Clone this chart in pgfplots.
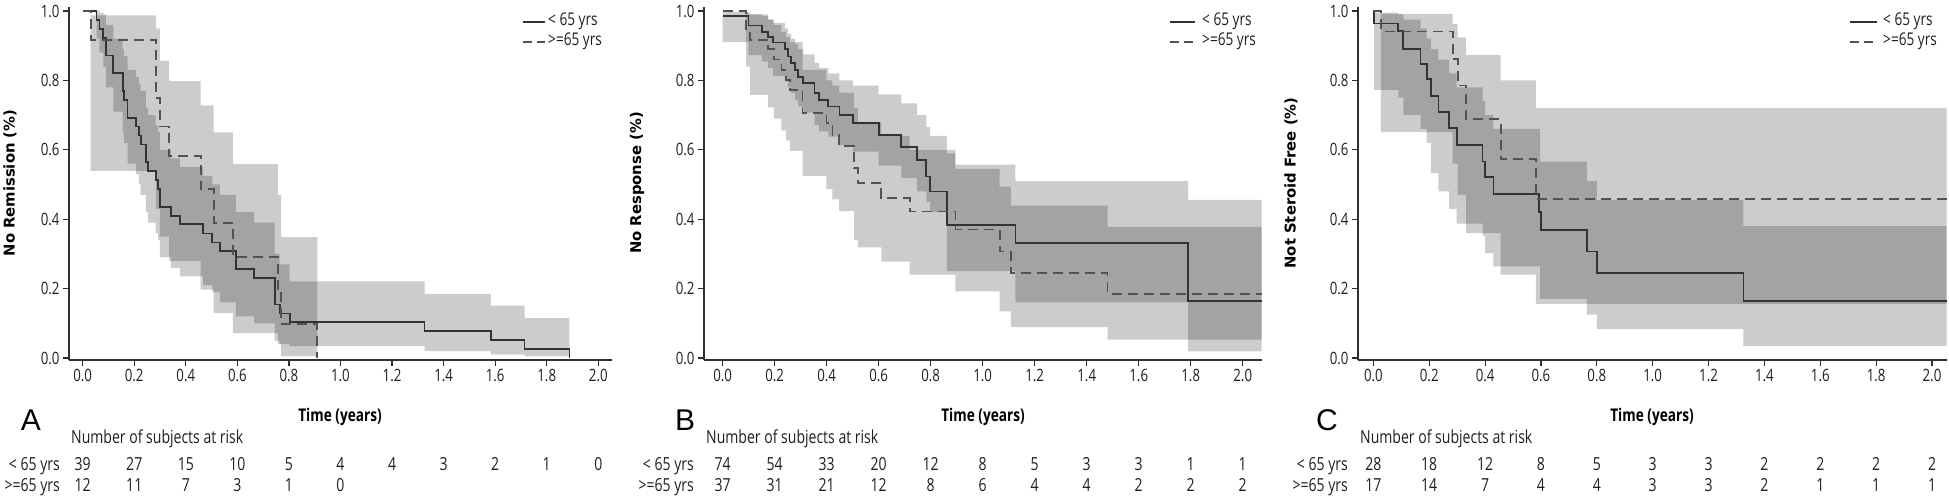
\documentclass[border=0pt]{standalone}
\usepackage{fontspec}
\setmainfont{Open Sans}[FakeStretch=0.78]
\newfontfamily\ylfont{DejaVu Sans}
\newfontfamily\panelfont{Liberation Sans}
\usepackage{pgfplots}
\pgfplotsset{compat=1.18}
\usepackage{pgfplotstable}
\usepgfplotslibrary{fillbetween}
\pgfkeys{/pgf/number format/assume math mode=true}

\definecolor{txt}{gray}{0.12}
\definecolor{axc}{gray}{0.18}

% ---------------- Panel A bands (t, lower, upper) ----------------
\pgfplotstableread{
t L U
0.054 0.92 1.0
0.065 0.88 0.995
0.080 0.84 0.99
0.090 0.78 0.96
0.119 0.71 0.92
0.155 0.65 0.89
0.160 0.62 0.87
0.174 0.56 0.83
0.206 0.53 0.81
0.218 0.50 0.79
0.225 0.47 0.77
0.245 0.42 0.72
0.254 0.39 0.70
0.283 0.36 0.67
0.293 0.34 0.65
0.299 0.29 0.60
0.342 0.26 0.575
0.377 0.235 0.55
0.467 0.21 0.525
0.503 0.19 0.50
0.532 0.16 0.47
0.594 0.12 0.42
0.665 0.10 0.39
0.745 0.05 0.30
0.764 0.04 0.27
0.803 0.034 0.221
1.326 0.02 0.185
1.583 0.01 0.151
1.714 0.005 0.115
1.888 0.005 0.115
}\bandAy
\pgfplotstableread{
t L U
0.031 0.539 0.987
0.284 0.43 0.95
0.299 0.35 0.857
0.335 0.28 0.798
0.458 0.197 0.728
0.508 0.13 0.65
0.583 0.072 0.559
0.757 0.04 0.47
0.770 0.005 0.348
0.910 0.005 0.348
}\bandAo
% ---------------- Panel B bands ----------------
\pgfplotstableread{
t L U
0.000 0.91 0.998
0.099 0.873 0.99
0.151 0.854 0.985
0.175 0.835 0.975
0.194 0.813 0.965
0.239 0.797 0.95
0.251 0.78 0.935
0.263 0.763 0.92
0.278 0.744 0.905
0.290 0.725 0.89
0.310 0.707 0.875
0.353 0.672 0.85
0.371 0.653 0.835
0.406 0.638 0.82
0.449 0.614 0.80
0.501 0.595 0.785
0.600 0.554 0.76
0.687 0.518 0.734
0.747 0.48 0.70
0.783 0.45 0.665
0.798 0.42 0.64
0.862 0.25 0.59
0.895 0.25 0.557
1.126 0.16 0.51
1.790 0.019 0.456
2.073 0.019 0.456
}\bandBy
\pgfplotstableread{
t L U
0.090 0.84 0.995
0.105 0.758 0.99
0.175 0.722 0.975
0.197 0.69 0.96
0.226 0.656 0.94
0.243 0.627 0.925
0.258 0.597 0.91
0.307 0.525 0.83
0.399 0.487 0.80
0.422 0.457 0.785
0.448 0.423 0.765
0.505 0.34 0.72
0.520 0.319 0.68
0.610 0.278 0.64
0.719 0.24 0.60
0.895 0.192 0.545
1.065 0.134 0.494
1.108 0.089 0.439
1.480 0.053 0.378
2.073 0.053 0.378
}\bandBo
% ---------------- Panel C bands ----------------
\pgfplotstableread{
t L U
0.002 0.773 0.995
0.0895 0.75 0.99
0.107 0.70 0.975
0.169 0.66 0.95
0.191 0.62 0.92
0.206 0.533 0.89
0.233 0.48 0.86
0.271 0.43 0.82
0.298 0.387 0.78
0.391 0.352 0.74
0.400 0.302 0.70
0.430 0.264 0.66
0.597 0.17 0.566
0.764 0.125 0.51
0.800 0.084 0.456
1.325 0.034 0.38
2.052 0.034 0.38
}\bandCy
\pgfplotstableread{
t L U
0.027 0.651 0.992
0.284 0.56 0.962
0.302 0.47 0.924
0.332 0.36 0.873
0.456 0.24 0.80
0.582 0.156 0.72
2.052 0.156 0.72
}\bandCo

\pgfplotsset{
  km/.style={
    scale only axis,
    height=353pt,
    ymin=-0.0058, ymax=1.0115,
    axis x line*=bottom, axis y line*=left,
    axis line style={line width=1.4pt, color=axc},
    xtick={0,0.2,0.4,0.6,0.8,1.0,1.2,1.4,1.6,1.8,2.0},
    ytick={0,0.2,0.4,0.6,0.8,1.0},
    tick style={line width=1.2pt, color=axc},
    tick align=outside, major tick length=6pt,
    ticklabel style={font=\fontsize{17}{20}\selectfont, text=txt,
      /pgf/number format/fixed, /pgf/number format/fixed zerofill,
      /pgf/number format/precision=1},
    clip=false,
  },
  band/.style={fill=black, fill opacity=0.2, draw=none, forget plot},
  bnd/.style={draw=none, const plot, forget plot},
  young/.style={const plot, color=black!80, line width=1.8pt},
  old/.style={const plot, color=black!68, line width=1.8pt, dash pattern=on 10pt off 6pt},
}

\begin{document}
\begin{tikzpicture}

% ===================== Panel A =====================
\begin{axis}[km, at={(69pt,141pt)}, anchor=south west, width=542.7pt, xmin=-0.053, xmax=2.052]
\addplot[bnd, name path=AyU] table[x=t,y=U]{\bandAy};
\addplot[bnd, name path=AyL] table[x=t,y=L]{\bandAy};
\addplot[band] fill between[of=AyU and AyL];
\addplot[bnd, name path=AoU] table[x=t,y=U]{\bandAo};
\addplot[bnd, name path=AoL] table[x=t,y=L]{\bandAo};
\addplot[band] fill between[of=AoU and AoL];
\addplot[young] coordinates {(0,1) (0.054,0.974) (0.065,0.949) (0.080,0.923) (0.090,0.872) (0.119,0.821) (0.155,0.769) (0.160,0.744) (0.174,0.692) (0.206,0.667) (0.218,0.641) (0.225,0.615) (0.245,0.564) (0.254,0.538) (0.283,0.513) (0.293,0.487) (0.299,0.436) (0.342,0.410) (0.377,0.385) (0.467,0.359) (0.503,0.333) (0.532,0.308) (0.594,0.256) (0.665,0.231) (0.745,0.154) (0.764,0.128) (0.803,0.103) (1.326,0.077) (1.583,0.051) (1.714,0.026) (1.888,0)};
\addplot[old] coordinates {(0,1) (0.031,0.917) (0.284,0.75) (0.299,0.667) (0.335,0.583) (0.458,0.486) (0.508,0.389) (0.583,0.292) (0.757,0.194) (0.770,0.097) (0.910,0)};
\end{axis}

% ===================== Panel B =====================
\begin{axis}[km, at={(704pt,141pt)}, anchor=south west, width=557.7pt, xmin=-0.072, xmax=2.073]
\addplot[bnd, name path=ByU] table[x=t,y=U]{\bandBy};
\addplot[bnd, name path=ByL] table[x=t,y=L]{\bandBy};
\addplot[band] fill between[of=ByU and ByL];
\addplot[bnd, name path=BoU] table[x=t,y=U]{\bandBo};
\addplot[bnd, name path=BoL] table[x=t,y=L]{\bandBo};
\addplot[band] fill between[of=BoU and BoL];
\addplot[young] coordinates {(0,0.986) (0.099,0.958) (0.151,0.94) (0.175,0.925) (0.194,0.909) (0.239,0.89) (0.251,0.869) (0.263,0.85) (0.278,0.83) (0.290,0.81) (0.310,0.792) (0.353,0.763) (0.371,0.744) (0.406,0.725) (0.449,0.70) (0.501,0.677) (0.600,0.643) (0.687,0.609) (0.747,0.571) (0.783,0.523) (0.798,0.48) (0.862,0.384) (1.126,0.331) (1.79,0.165) (2.073,0.165)};
\addplot[old] coordinates {(0,1.0) (0.090,0.946) (0.105,0.917) (0.175,0.89) (0.197,0.86) (0.226,0.83) (0.243,0.80) (0.258,0.773) (0.307,0.707) (0.399,0.677) (0.422,0.643) (0.448,0.612) (0.505,0.547) (0.520,0.504) (0.610,0.46) (0.719,0.422) (0.895,0.37) (1.065,0.307) (1.108,0.245) (1.480,0.184) (2.073,0.184)};
\end{axis}

% ===================== Panel C =====================
\begin{axis}[km, at={(1358pt,141pt)}, anchor=south west, width=588.5pt, xmin=-0.055, xmax=2.052]
\addplot[bnd, name path=CyU] table[x=t,y=U]{\bandCy};
\addplot[bnd, name path=CyL] table[x=t,y=L]{\bandCy};
\addplot[band] fill between[of=CyU and CyL];
\addplot[bnd, name path=CoU] table[x=t,y=U]{\bandCo};
\addplot[bnd, name path=CoL] table[x=t,y=L]{\bandCo};
\addplot[band] fill between[of=CoU and CoL];
\addplot[young] coordinates {(0,1) (0.002,0.964) (0.0895,0.942) (0.107,0.89) (0.169,0.848) (0.191,0.803) (0.206,0.756) (0.233,0.708) (0.271,0.662) (0.298,0.614) (0.391,0.566) (0.400,0.521) (0.430,0.473) (0.594,0.42) (0.600,0.368) (0.764,0.307) (0.80,0.245) (1.325,0.165) (2.052,0.165)};
\addplot[old] coordinates {(0,1) (0.027,0.941) (0.284,0.862) (0.302,0.785) (0.332,0.689) (0.456,0.573) (0.582,0.458) (2.052,0.458)};
\end{axis}

% ===================== Labels, legends and risk tables =====================
\tikzset{lbl/.style={text=txt, inner sep=0pt, text height=0.72em, text depth=0pt},
         yl/.style={rotate=90, text=black, inner sep=0pt, font=\ylfont\bfseries\fontsize{14.8}{17}\selectfont},
         xl/.style={text=black, inner sep=0pt, text height=0.72em, text depth=0pt, font=\bfseries\fontsize{17.5}{20}\selectfont},
         pl/.style={text=black, inner sep=0pt, font=\panelfont\fontsize{30}{32}\selectfont, text height=0.72em, text depth=0pt},
         rk/.style={lbl, font=\fontsize{18}{21}\selectfont},
         lg/.style={lbl, anchor=west, font=\fontsize{17.5}{20}\selectfont}}

% legends (line sample + text)
\foreach \la/\lb/\lt in {523/545/548, 1170/1195/1202, 1850/1877/1883}{
  \draw[color=black!80, line width=1.8pt] (\la pt,479pt) -- (\lb pt,479pt);
  \draw[color=black!68, line width=1.8pt, dash pattern=on 9pt off 5pt] (\la pt,459pt) -- (\lb pt,459pt);
  \node[lg] at (\lt pt,479pt) {< 65 yrs};
  \node[lg] at (\lt pt,459pt) {>=65 yrs};
}

\node[yl] at (10pt,318pt) {No Remission (\%)};
\node[yl] at (637pt,318pt) {No Response (\%)};
\node[yl] at (1291pt,318pt) {Not Steroid Free (\%)};

\node[xl] at (340pt,83pt) {Time (years)};
\node[xl] at (983pt,83pt) {Time (years)};
\node[xl] at (1652pt,83pt) {Time (years)};

\node[pl] at (31pt,74pt) {A};
\node[pl] at (685pt,74pt) {B};
\node[pl] at (1327pt,74pt) {C};

\node[rk, anchor=west] at (71pt,61pt) {Number of subjects at risk};
\node[rk, anchor=west] at (706pt,61pt) {Number of subjects at risk};
\node[rk, anchor=west] at (1360pt,61pt) {Number of subjects at risk};

\foreach \xr in {60,694,1348}{
  \node[rk, anchor=east] at (\xr pt,34pt) {< 65 yrs};
  \node[rk, anchor=east] at (\xr pt,13pt) {>=65 yrs};
}

% Panel A risk numbers
\foreach \v [count=\i from 0] in {39,27,15,10,5,4,4,3,2,1,0}
  \node[rk] at ({82.7pt+51.56pt*\i},34pt) {\v};
\foreach \v [count=\i from 0] in {12,11,7,3,1,0}
  \node[rk] at ({82.7pt+51.56pt*\i},13pt) {\v};
% Panel B risk numbers
\foreach \v [count=\i from 0] in {74,54,33,20,12,8,5,3,3,1,1}
  \node[rk] at ({722.7pt+52pt*\i},34pt) {\v};
\foreach \v [count=\i from 0] in {37,31,21,12,8,6,4,4,2,2,2}
  \node[rk] at ({722.7pt+52pt*\i},13pt) {\v};
% Panel C risk numbers
\foreach \v [count=\i from 0] in {28,18,12,8,5,3,3,2,2,2,2}
  \node[rk] at ({1373.3pt+55.87pt*\i},34pt) {\v};
\foreach \v [count=\i from 0] in {17,14,7,4,4,3,3,2,1,1,1}
  \node[rk] at ({1373.3pt+55.87pt*\i},13pt) {\v};

\pgfresetboundingbox
\useasboundingbox (0,0) rectangle (1949pt,501pt);
\end{tikzpicture}
\end{document}
